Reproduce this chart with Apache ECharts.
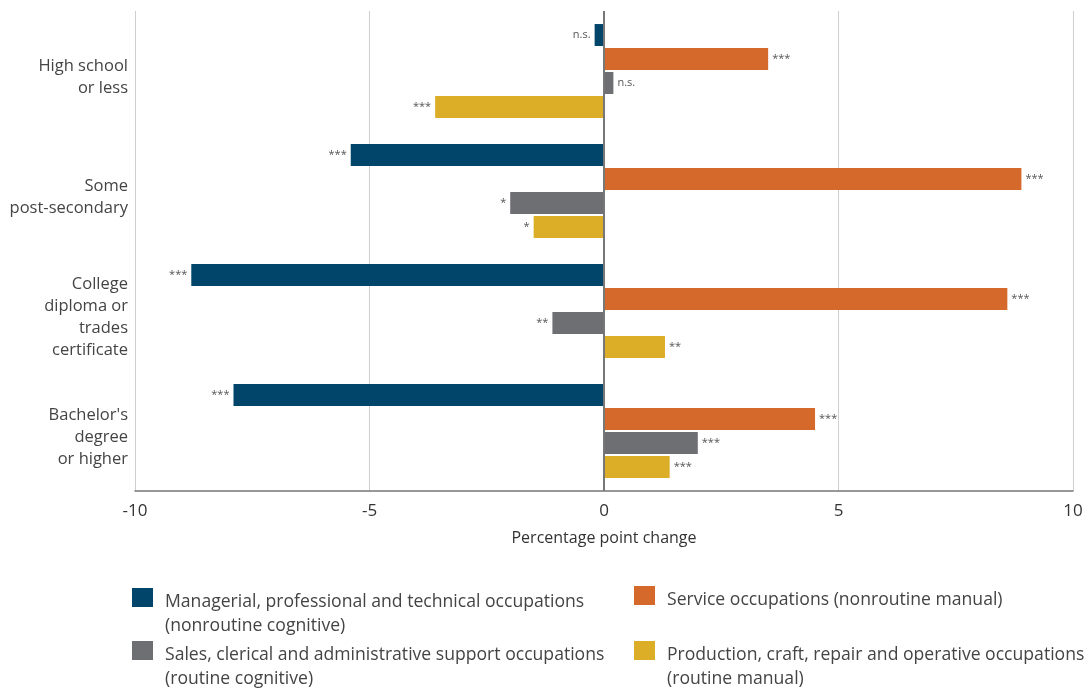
<!DOCTYPE html>
<html>
<head>
<meta charset="utf-8">
<script src="https://cdn.jsdelivr.net/npm/echarts@6/dist/echarts.min.js"></script>
<style>
    html, body { margin: 0; padding: 0; background: #fff; }
    #chart { width: 1088px; height: 690px; }
</style>
</head>
<body>
<div id="chart"></div>
<script>
// education groups (top to bottom)
var categories = ['High school\nor less', 'Some\npost-secondary', 'College\ndiploma or\ntrades\ncertificate', "Bachelor's\ndegree\nor higher"];

// percentage point change by occupation group
var managerial = [-0.2, -5.4, -8.8, -7.9];
var service = [3.5, 8.9, 8.6, 4.5];
var sales = [0.2, -2.0, -1.1, 2.0];
var production = [-3.6, -1.5, 1.3, 1.4];

// significance markers
var managerialSig = ['n.s.', '***', '***', '***'];
var serviceSig = ['***', '***', '***', '***'];
var salesSig = ['n.s.', '*', '**', '***'];
var productionSig = ['***', '*', '**', '***'];

var xTicks = [-10, -5, 0, 5, 10];

var names = [
    'Managerial, professional and technical occupations\n(nonroutine cognitive)',
    'Service occupations (nonroutine manual)',
    'Sales, clerical and administrative support occupations\n(routine cognitive)',
    'Production, craft, repair and operative occupations\n(routine manual)'
];
var colors = ['#02456a', '#d5682b', '#6e6f73', '#dcad27'];

var font = '"Open Sans", sans-serif';

var chartDom = document.getElementById('chart');
var myChart = echarts.init(chartDom);

function makeData(values, sig) {
    var out = [];
    for (let i = 0; i < values.length; i++) {
        out.push({value: values[i], sig: sig[i]});
    }
    return out;
}

function makeSeries(idx, values, sig) {
    return {
        name: names[idx],
        type: 'bar',
        barWidth: 22,
        barGap: '9%',
        itemStyle: {color: colors[idx]},
        label: {
            show: true,
            position: 'outside',
            distance: 4,
            color: '#555',
            fontSize: 11,
            fontFamily: font,
            formatter: function (p) { return p.data.sig; }
        },
        data: makeData(values, sig)
    };
}

// icon should sit next to the first line, so names get an empty spacer line on top
function legendText(name) {
    var lines = name.split('\n');
    if (lines.length > 1) {
        return '{s| }\n{t|' + lines[0] + '}\n{t|' + lines[1] + '}';
    }
    return '{u| }\n{t|' + name + '}';
}

function makeLegend(name, left, top) {
    return {
        data: [name],
        left: left,
        top: top,
        padding: 0,
        icon: 'rect',
        itemWidth: 21,
        itemHeight: 19,
        itemGap: 0,
        selectedMode: false,
        formatter: legendText,
        textStyle: {
            color: '#444',
            fontSize: 17.6,
            fontFamily: font,
            rich: {
                s: {fontSize: 1, lineHeight: 32},
                u: {fontSize: 1, lineHeight: 8},
                t: {
                    color: '#444',
                    fontSize: 17.6,
                    fontFamily: font,
                    lineHeight: 24,
                    padding: [0, 0, 0, 7]
                }
            }
        }
    };
}

function yLabel(value) {
    var lines = value.split('\n');
    var out = '{s| }';
    for (let i = 0; i < lines.length; i++) {
        out += '\n{a|' + lines[i] + '}';
    }
    return out;
}

var series = [
    makeSeries(0, managerial, managerialSig),
    makeSeries(1, service, serviceSig),
    makeSeries(2, sales, salesSig),
    makeSeries(3, production, productionSig)
];

// zero reference line
series[0].markLine = {
    silent: true,
    symbol: 'none',
    label: {show: false},
    lineStyle: {color: '#777', width: 2, type: 'solid'},
    data: [{xAxis: 0}]
};

var option = {
    animation: false,
    grid: {left: 135, right: 15, top: 11, bottom: 199},
    legend: [
        makeLegend(names[0], 132, 573),
        makeLegend(names[2], 132, 626),
        makeLegend(names[1], 634, 583),
        makeLegend(names[3], 634, 626)
    ],
    xAxis: {
        type: 'value',
        min: xTicks[0],
        max: xTicks[xTicks.length - 1],
        interval: 5,
        name: 'Percentage point change',
        nameLocation: 'middle',
        nameGap: 39,
        nameTextStyle: {color: '#333', fontSize: 16, fontFamily: font},
        axisLine: {show: true, lineStyle: {color: '#777', width: 1.5}},
        axisTick: {show: false},
        axisLabel: {color: '#333', fontSize: 17, fontFamily: font, margin: 12},
        splitLine: {show: true, lineStyle: {color: '#cfcfcf', width: 1}}
    },
    yAxis: {
        type: 'category',
        inverse: true,
        data: categories,
        axisLine: {show: false, onZero: false},
        axisTick: {show: false},
        axisLabel: {
            align: 'right',
            margin: 7,
            formatter: yLabel,
            rich: {
                s: {fontSize: 1, lineHeight: 13, align: 'right'},
                a: {color: '#444', fontSize: 16.5, fontFamily: font, lineHeight: 22, align: 'right'}
            }
        }
    },
    series: series
};

option && myChart.setOption(option);

window.addEventListener('resize', myChart.resize);
</script>
</body>
</html>
